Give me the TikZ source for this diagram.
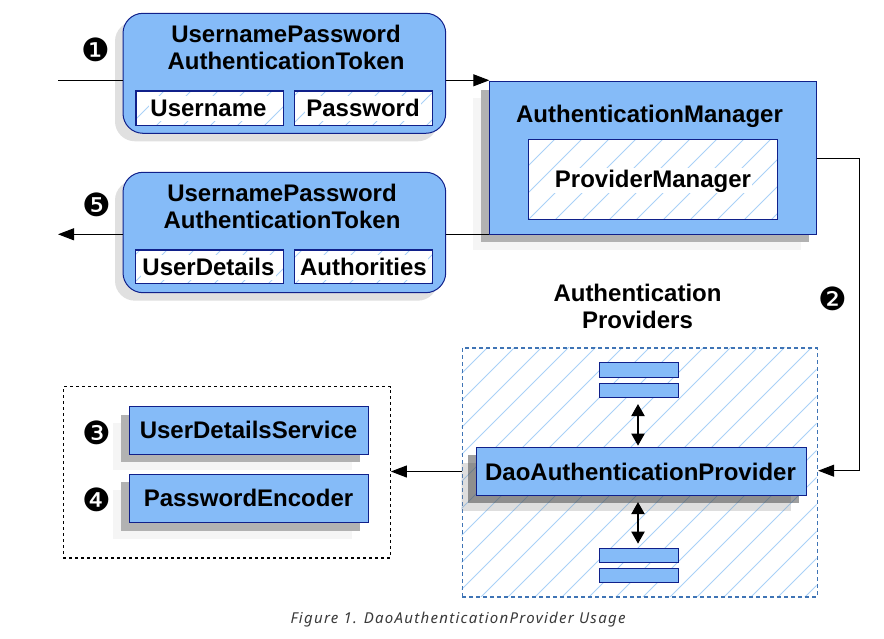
\documentclass[tikz,border=0pt]{standalone}
\usepackage{fontspec}
\setmainfont{Liberation Sans}
\newfontfamily\capfont[LetterSpace=8.5]{Noto Sans}
\newfontfamily\numfont{DejaVu Sans}
\usetikzlibrary{arrows.meta,calc}
\definecolor{bfill}{HTML}{85BBF8}
\definecolor{bline}{HTML}{10208A}
\definecolor{hatchc}{HTML}{A9D1F7}
\definecolor{dashc}{HTML}{3F74B5}
\definecolor{capc}{HTML}{3A3A3A}
\tikzset{
  lbl/.style={font=\fontsize{24}{27}\selectfont\bfseries,align=center,inner sep=0pt,text=black},
  lblw/.style={lbl,fill=white,inner xsep=1pt,inner ysep=0pt,text height=20pt,text depth=5pt},
  edgebox/.style={draw=bline,line width=1pt,inner sep=0pt,outer sep=0pt},
  bluebox/.style={edgebox,fill=bfill},
  frameb/.style={edgebox,line width=1.5pt,fill=none},
  roundbox/.style={bluebox,rounded corners=20pt},
  conn/.style={draw=black,line width=1pt},
  tipped/.style={conn,-{Triangle[length=16pt,width=12pt]}},
  bothway/.style={draw=black,line width=2pt,{Triangle[length=12pt,width=13pt]}-{Triangle[length=12pt,width=13pt]}},
  num/.style={font=\numfont\fontsize{32}{32}\selectfont,inner sep=0pt,text=black},
}
% \rbox{name}{x1}{y1}{x2}{y2}{style}
\newcommand{\rbox}[6]{%
  \pgfmathsetmacro{\rw}{#4-#2}\pgfmathsetmacro{\rh}{#5-#3}%
  \node[#6,minimum width=\rw pt,minimum height=\rh pt,anchor=north west] (#1) at (#2,#3) {};}
% \hatchfill{x1}{x2}{y1}{y2}{phase}
\newcommand{\hatchfill}[5]{%
  \begin{scope}
    \clip (#1,#3) rectangle (#2,#4);
    \foreach \k in {0,...,60}{
      \pgfmathsetmacro{\s}{#5+27*\k}
      \draw[hatchc,line width=0.8pt] (\s,0) -- (0,\s);
    }
  \end{scope}}
\begin{document}
\begin{tikzpicture}[x=1pt,y=-1pt]
\useasboundingbox (0,0) rectangle (884,639);
\fill[white] (0,0) rectangle (884,639);

% shadows of the two tokens
\fill[black!12,rounded corners=20pt] (115,21.3) rectangle (437.7,141.3);
\fill[black!12,rounded corners=20pt] (115,180.3) rectangle (437.7,300.7);

\coordinate (inStart) at (58,80.3);
\coordinate (outEnd) at (58,234.3);
\coordinate (elbowA) at (859,158.3);
\coordinate (elbowB) at (859,470.7);

% token 1
\rbox{tokA}{123}{13.3}{445.7}{133.3}{roundbox}
\rbox{tokAuser}{136}{91}{283.7}{125.3}{edgebox,fill=white}
\rbox{tokApass}{294.3}{91}{432.7}{125.3}{edgebox,fill=white}
\hatchfill{136}{283.7}{91}{125.3}{12}
\hatchfill{294.3}{432.7}{91}{125.3}{12}
\rbox{tokAuserF}{136}{91}{283.7}{125.3}{frameb}
\rbox{tokApassF}{294.3}{91}{432.7}{125.3}{frameb}
\node[lbl] (tokAt) at (286,47) {UsernamePassword\\AuthenticationToken};
\node[lblw,anchor=base] (tokAu) at (208.5,116.5) {Username};
\node[lblw,anchor=base] (tokAp) at (363,116.5) {Password};

% token 2
\rbox{tokB}{123}{172.3}{445.7}{292.7}{roundbox}
\rbox{tokBuser}{135.3}{250}{283.7}{283.7}{edgebox,fill=white}
\rbox{tokBauth}{294.3}{250}{432.7}{283.7}{edgebox,fill=white}
\hatchfill{135.3}{283.7}{250}{283.7}{12}
\hatchfill{294.3}{432.7}{250}{283.7}{12}
\rbox{tokBuserF}{135.3}{250}{283.7}{283.7}{frameb}
\rbox{tokBauthF}{294.3}{250}{432.7}{283.7}{frameb}
\node[lbl] (tokBt) at (282,206) {UsernamePassword\\AuthenticationToken};
\node[lblw,anchor=base] (tokBu) at (208.5,275.5) {UserDetails};
\node[lblw,anchor=base] (tokBa) at (363.5,275.5) {Authorities};

% manager
\fill[black!4] (473.3,97.7) rectangle (800.7,250.3);
\fill[black!30] (481.3,89.7) rectangle (808.7,242.3);
\rbox{mgr}{489.3}{81.7}{816.7}{234.3}{bluebox}
\rbox{pm}{528.3}{139.3}{777.3}{219.3}{edgebox,fill=white}
\hatchfill{528.3}{777.3}{139.3}{219.3}{19}
\rbox{pmF}{528.3}{139.3}{777.3}{219.3}{edgebox,fill=none}
\node[lbl,anchor=base] (mgrt) at (649.5,122.5) {AuthenticationManager};
\node[lblw,anchor=base] (pmt) at (653,187.8) {ProviderManager};

% connectors
\draw[conn] (inStart) -- (inStart -| tokA.west);
\coordinate (mgrIn) at (mgr.west |- 0,80.3);
\draw[tipped] (tokA.east |- mgrIn) -- (mgrIn);
\draw[conn] (mgr.west |- outEnd) -- (tokB.east |- outEnd);
\draw[tipped] (tokB.west |- outEnd) -- (outEnd);

\node[lbl] (provt) at (637.5,306) {Authentication\\Providers};

% providers group
\hatchfill{461.7}{816.7}{347.3}{596}{25}
\rbox{grp}{461.7}{347.3}{816.7}{596}{draw=dashc,line width=1.5pt,dash pattern=on 4pt off 3pt,fill=none}
\begin{scope}
\clip (461.7,347.3) rectangle (900,700);
\fill[black!45,opacity=.28] (460.3,463.3) rectangle (790.7,511.3);
\end{scope}
\fill[black!75,opacity=.5] (468.3,455.3) rectangle (798.7,503.3);
\rbox{dao}{476.3}{447.3}{806.7}{495.3}{bluebox}
\node[lbl,anchor=base] (daot) at (640.5,480.8) {DaoAuthenticationProvider};
\rbox{pa}{599.3}{362.3}{678.7}{377.3}{bluebox}
\rbox{pb}{599.3}{383.3}{678.7}{397.7}{bluebox}
\rbox{pc}{599.3}{548.3}{678.7}{562.7}{bluebox}
\rbox{pd}{599.3}{568.3}{678.7}{582.7}{bluebox}
\draw[bothway] (638,404) -- (638,445.7);
\draw[bothway] (638,502) -- (638,543.7);

% services group
\rbox{svc}{62.7}{386}{389.7}{557.3}{draw=black,line width=1.2pt,dash pattern=on 3pt off 3pt,fill=none}
\fill[black!4] (113.3,422.7) rectangle (352.3,470.3);
\fill[black!30] (121.3,414.7) rectangle (360.3,462.3);
\rbox{uds}{129.3}{406.7}{368.3}{454.3}{bluebox}
\fill[black!4] (113.3,490.3) rectangle (352.3,538.7);
\fill[black!30] (121.3,482.3) rectangle (360.3,530.7);
\rbox{pe}{129.3}{474.3}{368.3}{522.7}{bluebox}
\node[lbl,anchor=base] (udst) at (248.5,438.5) {UserDetailsService};
\node[lbl,anchor=base] (pet) at (248.5,506) {PasswordEncoder};

\draw[conn] (elbowA -| mgr.east) -- (elbowA) -- (elbowB);
\draw[tipped] (elbowB) -- (elbowB -| grp.east);
\draw[tipped] (grp.west |- 0,471.5) -- (svc.east |- 0,471.5);

% step numbers
\node[num] (n1) at (95.5,50) {❶};
\node[num] (n2) at (832.5,299.3) {❷};
\node[num] (n3) at (97,432.7) {❸};
\node[num] (n4) at (97,500.3) {❹};
\node[num] (n5) at (97,205) {❺};

% caption
\node[font=\capfont\itshape\fontsize{15}{17}\selectfont,text=capc,inner sep=0pt] (cap) at (458,620) {Figure 1. DaoAuthenticationProvider Usage};
\end{tikzpicture}
\end{document}
